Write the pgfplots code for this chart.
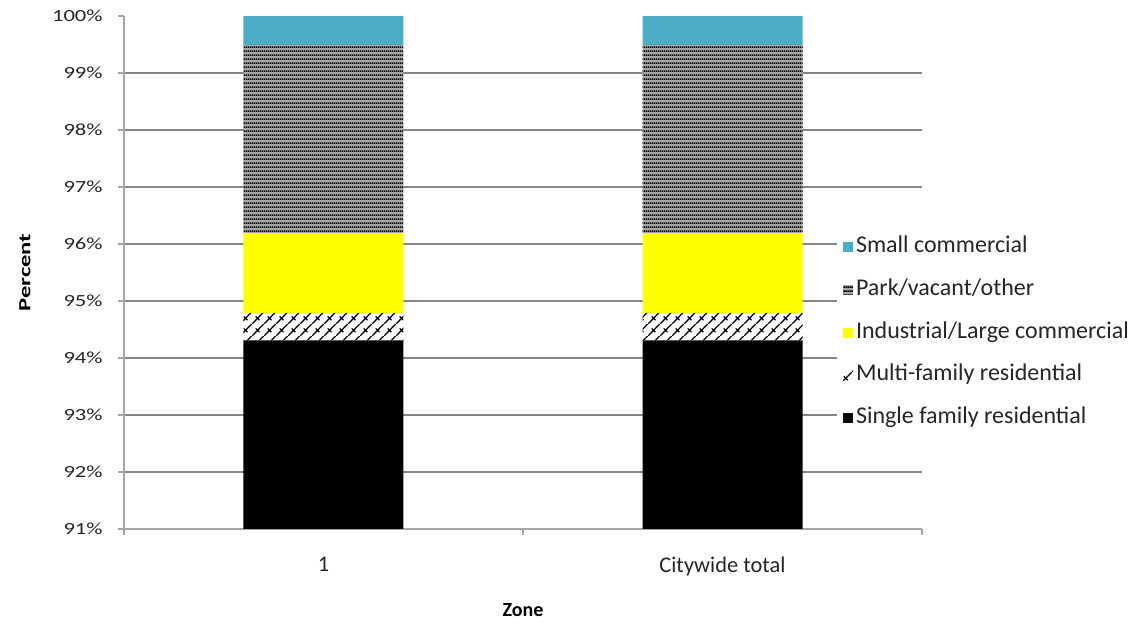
\documentclass[border=0pt]{standalone}
\usepackage{fontspec}
\setmainfont{Carlito}
\newfontfamily\tickfont{Carlito}[FakeStretch=1.33]
\newfontfamily\ylabfont{Carlito}[FakeStretch=1.45]
\usepackage{pgfplots}
\pgfplotsset{compat=1.18}
\usetikzlibrary{patterns.meta}

\definecolor{smallcom}{RGB}{75,172,198}
\definecolor{indyellow}{RGB}{255,255,0}
\definecolor{gridgray}{RGB}{134,134,134}
\definecolor{axisgray}{RGB}{165,165,165}
\definecolor{parkgray}{RGB}{165,165,165}

% horizontal stripes (park/vacant/other)
\tikzdeclarepattern{
  name=hstripes,
  bounding box={(0,0) and (1pt,2pt)},
  tile size={(1pt,2pt)},
  code={\fill (-0.1pt,0pt) rectangle (1.1pt,1pt);}
}
% shingle-like diagonal hatch (multi-family residential)
\tikzdeclarepattern{
  name=shingle,
  bounding box={(0,0) and (6pt,6pt)},
  tile size={(6pt,6pt)},
  code={
    \draw[line width=0.7pt] (-0.5pt,-0.5pt) -- (6.5pt,6.5pt);
    \draw[line width=0.7pt] (2pt,4pt) -- (4pt,2pt);
  }
}

\begin{document}
\begin{tikzpicture}
\useasboundingbox (-62pt,-47.5pt) rectangle (506.5pt,264.5pt);
\begin{axis}[
  at={(0,0)}, anchor=south west,
  scale only axis, width=399pt, height=256.5pt,
  ybar stacked, bar width=80pt,
  xmin=-0.5, xmax=1.5, ymin=91, ymax=100,
  xtick={-0.5,0.5,1.5},
  xticklabels={1,Citywide total},
  x tick label as interval,
  ytick={91,92,...,99},
  /pgf/number format/assume math mode=true,
  yticklabel={\pgfmathprintnumber{\tick}\%},
  extra y ticks={100},
  extra y tick labels={100\%},
  extra y tick style={grid=none},
  ymajorgrids,
  grid style={color=gridgray, line width=0.6pt},
  axis x line*=bottom, axis y line*=left,
  axis line style={axisgray, line width=0.8pt, -},
  tick style={axisgray, line width=0.8pt},
  tick align=outside, major tick length=3pt,
  yticklabel style={font=\tickfont\fontsize{8.5}{10}\selectfont, text=black!85, inner sep=0pt, xshift=-7.5pt},
  xticklabel style={font=\fontsize{11.2}{13}\selectfont, text=black!85, inner sep=0pt, yshift=-11pt},
  xlabel={Zone},
  ylabel={Percent},
  xlabel style={font=\bfseries\fontsize{10}{12}\selectfont, at={(axis description cs:0.5,0)}, anchor=center, yshift=-40.5pt},
  ylabel style={font=\ylabfont\bfseries\fontsize{8.5}{10}\selectfont, at={(axis description cs:-0.124,0.5)}, anchor=center},
  reverse legend,
  legend cell align=left,
  legend image code/.code={\path[#1, draw=none] (0pt,-2.5pt) rectangle (5pt,2.5pt);},
  legend style={
    draw=none, fill=white, inner xsep=3pt, inner ysep=3pt,
    at={(axis description cs:0.893,0.383)}, anchor=west,
    font=\fontsize{12}{13}\selectfont, text=black!85,
    row sep=10.9pt,
    nodes={inner sep=0pt, text height=8pt, text depth=2.5pt},
    /tikz/every odd column/.append style={column sep=1.5pt},
  },
]
\addplot[fill=black, draw=none] coordinates {(0,94.31) (1,94.31)};
\addlegendentry{Single family residential}
\addplot[fill=white, draw=none, postaction={pattern=shingle, pattern color=black}] coordinates {(0,0.48) (1,0.48)};
\addlegendentry{Multi-family residential}
\addplot[fill=indyellow, draw=none] coordinates {(0,1.40) (1,1.40)};
\addlegendentry{Industrial/Large commercial}
\addplot[fill=parkgray, draw=none, postaction={pattern=hstripes, pattern color=black}] coordinates {(0,3.30) (1,3.30)};
\addlegendentry{Park/vacant/other}
\addplot[fill=smallcom, draw=none] coordinates {(0,0.51) (1,0.51)};
\addlegendentry{Small commercial}
\end{axis}
\end{tikzpicture}
\end{document}
